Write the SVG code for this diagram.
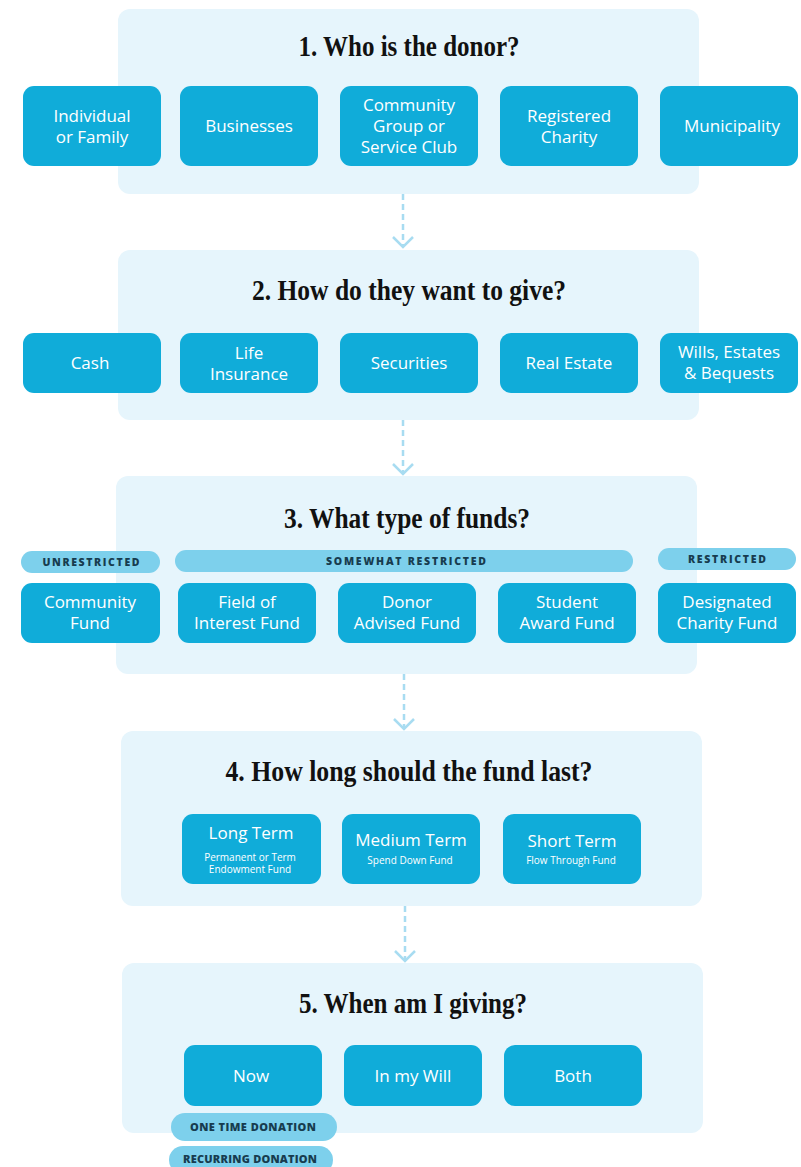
<svg xmlns="http://www.w3.org/2000/svg" width="801" height="1167" viewBox="0 0 801 1167">
<style>
.panel{fill:#e6f5fc}
.box{fill:#10acd9}
.pill{fill:#7dd0ec}
.t{font-family:"Open Sans","Noto Sans",sans-serif;font-size:17px;fill:#ffffff;text-anchor:middle}
.s{font-family:"Open Sans","Noto Sans",sans-serif;font-size:10px;fill:#ffffff;text-anchor:middle}
.h{font-family:"Liberation Serif","DejaVu Serif",serif;font-size:30px;font-weight:bold;fill:#111111;text-anchor:middle}
.p{font-family:"Open Sans","Noto Sans",sans-serif;font-size:10.5px;font-weight:800;fill:#173c4f;text-anchor:middle}
.p2{font-size:11px}
.c{stroke:#a8dcf1;stroke-width:2.5;fill:none}
</style>
<rect width="801" height="1167" fill="#ffffff"/>

<g id="panel1">
<rect class="panel" x="118" y="9" width="581" height="185" rx="12"/>
<text class="h" x="409" y="56" textLength="221" lengthAdjust="spacingAndGlyphs">1. Who is the donor?</text>
</g>
<g id="panel2">
<rect class="panel" x="118" y="250" width="581" height="170" rx="12"/>
<text class="h" x="409" y="300" textLength="314" lengthAdjust="spacingAndGlyphs">2. How do they want to give?</text>
</g>
<g id="panel3">
<rect class="panel" x="116" y="476" width="581" height="198" rx="12"/>
<text class="h" x="407" y="528" textLength="246" lengthAdjust="spacingAndGlyphs">3. What type of funds?</text>
</g>
<g id="panel4">
<rect class="panel" x="121" y="731" width="581" height="175" rx="12"/>
<text class="h" x="409" y="781" textLength="367" lengthAdjust="spacingAndGlyphs">4. How long should the fund last?</text>
</g>
<g id="panel5">
<rect class="panel" x="122" y="963" width="581" height="170" rx="12"/>
<text class="h" x="413" y="1013" textLength="228" lengthAdjust="spacingAndGlyphs">5. When am I giving?</text>
</g>

<g id="connectors">
<line class="c" x1="403" y1="194" x2="403" y2="246" stroke-dasharray="6 4"/>
<path class="c" d="M393,237 L403,247 L413,237"/>
<line class="c" x1="403" y1="420" x2="403" y2="473" stroke-dasharray="6 4"/>
<path class="c" d="M393,464 L403,474 L413,464"/>
<line class="c" x1="404" y1="674" x2="404" y2="728" stroke-dasharray="6 4"/>
<path class="c" d="M394,719 L404,729 L414,719"/>
<line class="c" x1="405" y1="906" x2="405" y2="960" stroke-dasharray="6 4"/>
<path class="c" d="M395,951 L405,961 L415,951"/>
</g>

<g id="donor-individual"><rect class="box" x="23" y="86" width="138" height="80" rx="11"/><text class="t" x="92" y="121.5">Individual</text><text class="t" x="92" y="142.5">or Family</text></g>
<g id="donor-businesses"><rect class="box" x="180" y="86" width="138" height="80" rx="11"/><text class="t" x="249" y="132">Businesses</text></g>
<g id="donor-community"><rect class="box" x="340" y="86" width="138" height="80" rx="11"/><text class="t" x="409" y="110.5">Community</text><text class="t" x="409" y="131.5">Group or</text><text class="t" x="409" y="152.5">Service Club</text></g>
<g id="donor-charity"><rect class="box" x="500" y="86" width="138" height="80" rx="11"/><text class="t" x="569" y="121.5">Registered</text><text class="t" x="569" y="142.5">Charity</text></g>
<g id="donor-municipality"><rect class="box" x="660" y="86" width="138" height="80" rx="11"/><text class="t" x="732" y="132">Municipality</text></g>

<g id="give-cash"><rect class="box" x="23" y="333" width="138" height="60" rx="11"/><text class="t" x="90" y="369">Cash</text></g>
<g id="give-life"><rect class="box" x="180" y="333" width="138" height="60" rx="11"/><text class="t" x="249" y="359">Life</text><text class="t" x="249" y="380">Insurance</text></g>
<g id="give-securities"><rect class="box" x="340" y="333" width="138" height="60" rx="11"/><text class="t" x="409" y="369">Securities</text></g>
<g id="give-realestate"><rect class="box" x="500" y="333" width="138" height="60" rx="11"/><text class="t" x="569" y="369">Real Estate</text></g>
<g id="give-wills"><rect class="box" x="660" y="333" width="138" height="60" rx="11"/><text class="t" x="729" y="358">Wills, Estates</text><text class="t" x="729" y="379">&amp; Bequests</text></g>

<g id="pill-unrestricted"><rect class="pill" x="21" y="551" width="139" height="22" rx="11"/><text class="p" x="91" y="566" textLength="97" lengthAdjust="spacing">UNRESTRICTED</text></g>
<g id="pill-somewhat"><rect class="pill" x="175" y="550" width="458" height="22" rx="11"/><text class="p" x="406" y="565" textLength="160" lengthAdjust="spacing">SOMEWHAT RESTRICTED</text></g>
<g id="pill-restricted"><rect class="pill" x="658" y="548" width="138" height="22" rx="11"/><text class="p" x="727" y="563" textLength="78" lengthAdjust="spacing">RESTRICTED</text></g>

<g id="fund-community"><rect class="box" x="21" y="583" width="139" height="60" rx="11"/><text class="t" x="90" y="608">Community</text><text class="t" x="90" y="629">Fund</text></g>
<g id="fund-interest"><rect class="box" x="178" y="583" width="138" height="60" rx="11"/><text class="t" x="247" y="608">Field of</text><text class="t" x="247" y="629">Interest Fund</text></g>
<g id="fund-donor"><rect class="box" x="338" y="583" width="138" height="60" rx="11"/><text class="t" x="407" y="608">Donor</text><text class="t" x="407" y="629">Advised Fund</text></g>
<g id="fund-student"><rect class="box" x="498" y="583" width="138" height="60" rx="11"/><text class="t" x="567" y="608">Student</text><text class="t" x="567" y="629">Award Fund</text></g>
<g id="fund-designated"><rect class="box" x="658" y="583" width="138" height="60" rx="11"/><text class="t" x="727" y="608">Designated</text><text class="t" x="727" y="629">Charity Fund</text></g>

<g id="term-long"><rect class="box" x="182" y="814" width="139" height="70" rx="11"/><text class="t" x="251" y="839">Long Term</text><text class="s" x="250" y="861">Permanent or Term</text><text class="s" x="250" y="873">Endowment Fund</text></g>
<g id="term-medium"><rect class="box" x="342" y="814" width="138" height="70" rx="11"/><text class="t" x="411" y="846">Medium Term</text><text class="s" x="410" y="864">Spend Down Fund</text></g>
<g id="term-short"><rect class="box" x="503" y="814" width="138" height="70" rx="11"/><text class="t" x="572" y="847">Short Term</text><text class="s" x="571" y="864">Flow Through Fund</text></g>

<g id="when-now"><rect class="box" x="184" y="1045" width="138" height="61" rx="11"/><text class="t" x="251" y="1082">Now</text></g>
<g id="when-will"><rect class="box" x="344" y="1045" width="138" height="61" rx="11"/><text class="t" x="413" y="1082">In my Will</text></g>
<g id="when-both"><rect class="box" x="504" y="1045" width="138" height="61" rx="11"/><text class="t" x="573" y="1082">Both</text></g>

<g id="pill-onetime"><rect class="pill" x="171" y="1113" width="166" height="28" rx="14"/><text class="p p2" x="253" y="1131" textLength="126" lengthAdjust="spacing">ONE TIME DONATION</text></g>
<g id="pill-recurring"><rect class="pill" x="169" y="1146" width="164" height="28" rx="14"/><text class="p p2" x="250" y="1163" textLength="134" lengthAdjust="spacing">RECURRING DONATION</text></g>
</svg>
